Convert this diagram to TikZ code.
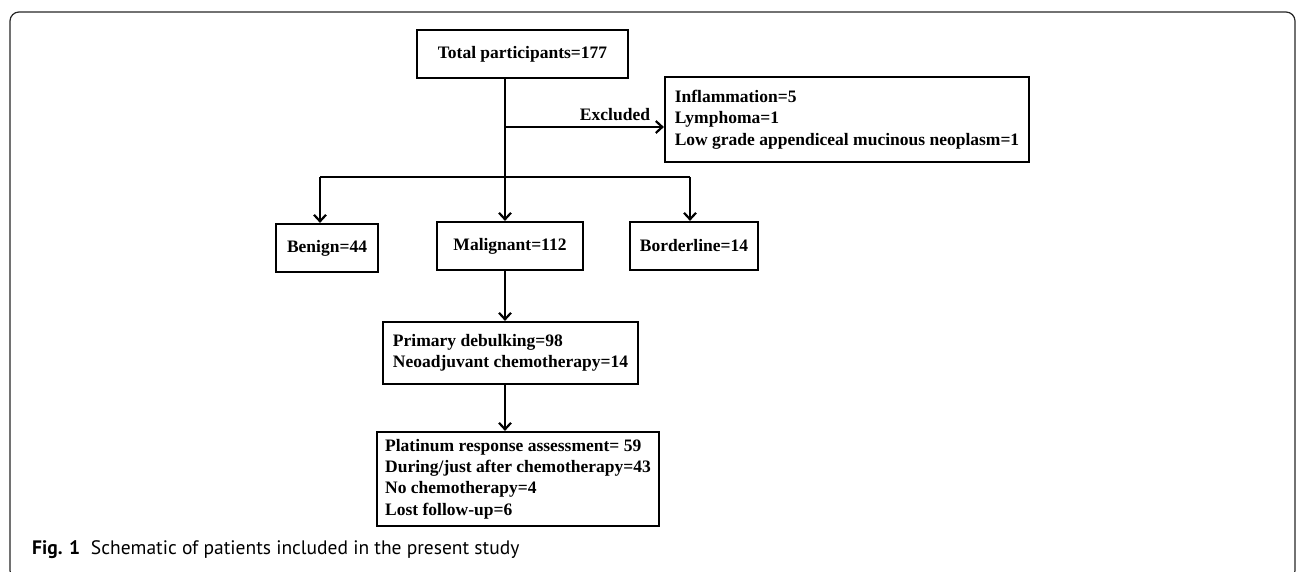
\documentclass[tikz,border=0pt]{standalone}
\usepackage{fontspec}
\setmainfont{Liberation Serif}
\newfontfamily\capfont{PT Sans}
\usetikzlibrary{arrows.meta,calc}
\begin{document}
\begin{tikzpicture}[x=1pt,y=-1pt,
  box/.style={draw=black,line width=2.2pt,fill=white,align=left,inner sep=0pt,
    font=\fontsize{17.5}{21.3}\selectfont\bfseries},
  arr/.style={line width=2.2pt,-{Straight Barb[length=6.5pt,width=12pt,line width=2.2pt]}},
  link/.style={line width=2.2pt}]
\useasboundingbox (0,0) rectangle (1296,571);
\draw[line width=1.2pt,draw=black!85,rounded corners=9pt] (10,12) rectangle (1295,579.5);

\node[box,minimum width=211pt,minimum height=48pt] (total) at (522.5,54) {Total participants=177};
\node[box,minimum width=364pt,minimum height=85pt] (exbox) at (847,119.5)
  {Inflammation=5\\Lymphoma=1\\Low grade appendiceal mucinous neoplasm=1};
\node[box,minimum width=102pt,minimum height=48pt] (benign) at (327,248) {Benign=44};
\node[box,minimum width=146pt,minimum height=48pt] (mal) at (510,246) {Malignant=112};
\node[box,minimum width=128pt,minimum height=48pt] (border) at (694,246) {Borderline=14};
\node[box,minimum width=255pt,minimum height=62pt] (prim) at (510.5,353)
  {Primary debulking=98\\Neoadjuvant chemotherapy=14};
\node[box,minimum width=282pt,minimum height=94pt] (final) at (518,479)
  {Platinum response assessment= 59\\During/just after chemotherapy=43\\No chemotherapy=4\\Lost follow-up=6};

\coordinate (excl) at (505,127);
\coordinate (split) at (505,177);

\draw[link] (total.south -| split) -- (split);
\draw[arr] (excl) -- (excl -| exbox.west);
\node[anchor=base,font=\fontsize{17.5}{20}\selectfont\bfseries,inner sep=0pt] (exlab) at (615,120) {Excluded};
\draw[arr] (split) -- (mal.north -| split);
\draw[link] ([xshift=-7pt]benign.north |- split) -- ([xshift=-4pt]border.north |- split);
\draw[arr] ([xshift=-7pt]benign.north |- split) -- ([xshift=-7pt]benign.north);
\draw[arr] ([xshift=-4pt]border.north |- split) -- ([xshift=-4pt]border.north);
\draw[arr] (mal.south -| split) -- (prim.north -| split);
\draw[arr] (prim.south -| split) -- (final.north -| split);

\node[anchor=base west,inner sep=0pt,font=\capfont\fontsize{19.5}{22}\selectfont] (cap) at (32,554)
  {\textbf{Fig. 1}\hspace{0.55em}Schematic of patients included in the present study};
\end{tikzpicture}
\end{document}
